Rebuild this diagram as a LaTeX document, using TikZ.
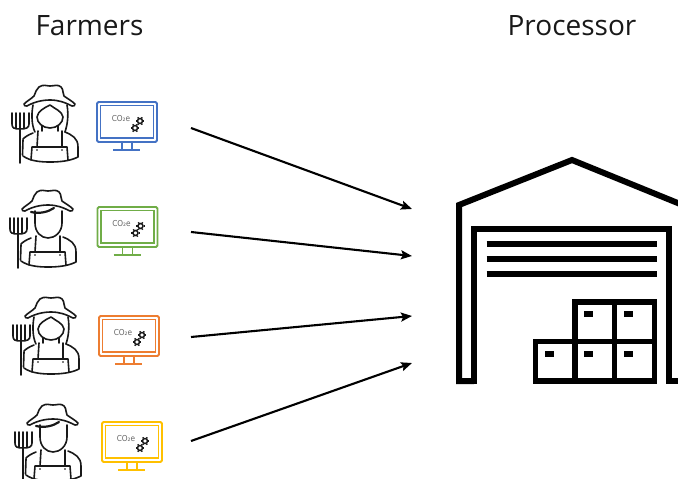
\documentclass[tikz,border=0pt]{standalone}
\usepackage{fontspec}
\setmainfont{Open Sans}
\newfontfamily\cofont{DejaVu Sans Condensed}
\usetikzlibrary{arrows.meta}
\definecolor{mblue}{HTML}{4472C4}
\definecolor{mgreen}{HTML}{70AD47}
\definecolor{morange}{HTML}{ED7D31}
\definecolor{myellow}{HTML}{FFC000}
\tikzset{
  heading/.style={font=\fontsize{28}{32}\selectfont,inner sep=0pt,text=black!90},
  flow/.style={line width=2.1pt,-{Stealth[length=11pt,width=9pt,inset=2pt]}},
  ink/.style={line width=1.6pt,line cap=round,line join=round,black!90},
  wall/.style={line width=6pt,line join=miter,black},
  crate/.style={line width=5.6pt,black},
  co/.style={font=\cofont\fontsize{8.2}{9}\selectfont,text=black!60,inner sep=0pt}
}
\newcommand{\gearicon}[2]{%
  \draw[line width=1.5pt,black!90] (#1,#2) circle (2.5);
  \foreach \a in {0,60,...,300}{\draw[line width=1.4pt,black!90] (#1,#2) ++(\a:3) -- ++(\a:1.3);}
}
\newcommand{\hatshape}{%
  \draw[ink,fill=white] (24,104) .. controls (27,101) and (31,99) .. (34,96)
    .. controls (36,92) and (36,89) .. (39,87)
    .. controls (43,84) and (47,86) .. (50,86) .. controls (54,86) and (58,84) .. (61,87)
    .. controls (64,90) and (62,93) .. (64,96)
    .. controls (68,99) and (72,101) .. (75,104) .. controls (75,106) and (74,106) .. (72,106)
    .. controls (64,102) and (58,100) .. (50,100)
    .. controls (42,100) and (34,102) .. (27,106) .. controls (25,106) and (24,106) .. (24,104) -- cycle;
}
\newcommand{\forkshape}{%
  \draw[ink] (20,113) -- (20,163);
  \draw[ink] (12,113) -- (12,124) .. controls (12,128) and (14,129) .. (20,129) .. controls (26,129) and (29,128) .. (29,124) -- (29,113);
  \draw[ink] (16,113) -- (16,128);
  \draw[ink] (24,113) -- (24,128);
}
\newcommand{\bodyshape}{%
  \draw[ink] (33,133) .. controls (28,135) and (25,137) .. (23,139) (22.5,155) -- (23,140);
  \draw[ink] (65,132) .. controls (72,135) and (78,138) .. (78,147) -- (78,157)
    .. controls (70,161) and (60,162) .. (50,162) .. controls (40,162) and (30,161) .. (23,156);
  \draw[ink] (38,131) -- (37,147) (62,131) -- (62,147);
  \draw[ink] (32,147) -- (67,147) (32,147) -- (31,160) (67,147) -- (68,160);
  \fill[black] (37,150) circle (.8) (62,150) circle (.8);
}
\newcommand{\farmerF}[2]{\begin{scope}[shift={(#1,#2)}]
  \forkshape\bodyshape
  \draw[ink] (33,105) .. controls (31,116) and (32,126) .. (35,132);
  \draw[ink] (67,105) .. controls (69,116) and (67,126) .. (65,132);
  \draw[ink] (37,117) .. controls (38,111) and (44,108) .. (50,105) .. controls (55,109) and (62,111) .. (63,117)
    .. controls (63,123) and (57,128) .. (50,128) .. controls (43,128) and (37,123) .. (37,117) -- cycle;
  \draw[ink] (42,126) -- (42,131) (58,126) -- (58,131);
  \hatshape
\end{scope}}
\newcommand{\farmerM}[2]{\begin{scope}[shift={(#1,#2)}]
  \forkshape\bodyshape
  \draw[ink] (37,106) -- (37,118) .. controls (37,127) and (43,133) .. (50,133) .. controls (57,133) and (64,127) .. (64,118) -- (64,106);
  \draw[ink,line width=2.2pt] (33,107) .. controls (42,109) and (50,107) .. (56,103);
  \hatshape
\end{scope}}
\newcommand{\monitor}[3]{\begin{scope}[shift={(#1,#2)}]
  \draw[#3,line width=1.8pt,rounded corners=1.5pt] (97,102) rectangle (157,142);
  \draw[#3,line width=1.8pt] (100.5,105.5) rectangle (153.5,138);
  \draw[#3,line width=1.5pt] (122,142) -- (122,150) (132,142) -- (132,150) (113,150) -- (140,150);
  \node[co] at (121,119) {CO₂e};
  \gearicon{140}{121}\gearicon{135}{128}
\end{scope}}
\begin{document}
\begin{tikzpicture}[x=1pt,y=-1pt]
\useasboundingbox (0,0) rectangle (678,479);
\clip (0,0) rectangle (678,479);
\node[heading] (farmers) at (89.5,26) {Farmers};
\node[heading] (processor) at (572,26) {Processor};
\farmerF{0}{0}\monitor{0}{0}{mblue}
\farmerM{-2}{105}\monitor{0.5}{105}{mgreen}
\farmerF{1}{212}\monitor{2}{214}{morange}
\farmerM{3}{319}\monitor{5}{320}{myellow}
\draw[wall] (474,381) -- (459,381) -- (459,205) -- (572,160) -- (690,208);
\draw[wall] (474,384) -- (474,229) -- (669,229) -- (669,384);
\draw[wall] (669,381) -- (680,381);
\draw[wall] (486.7,244) -- (657,244) (486.7,259.3) -- (657,259.3) (486.7,274.3) -- (657,274.3);
\draw[crate] (575,381) -- (575,302) -- (654.5,302) -- (654.5,381) -- (535.5,381) -- (535.5,341.3) -- (654.5,341.3);
\draw[crate] (614.5,302) -- (614.5,381) (575,341) -- (575,381);
\foreach \tx/\ty in {584/311,623.5/311,544.5/350.5,584/350.5,623.5/350.5}{\fill (\tx,\ty) rectangle ++(9,6);}
\coordinate (s1) at (191,128); \coordinate (t1) at (412,209);
\coordinate (s2) at (191,232); \coordinate (t2) at (412,256);
\coordinate (s3) at (191,337); \coordinate (t3) at (412,316);
\coordinate (s4) at (191,441); \coordinate (t4) at (412,363);
\draw[flow] (s1) -- (t1);
\draw[flow] (s2) -- (t2);
\draw[flow] (s3) -- (t3);
\draw[flow] (s4) -- (t4);
\end{tikzpicture}
\end{document}
